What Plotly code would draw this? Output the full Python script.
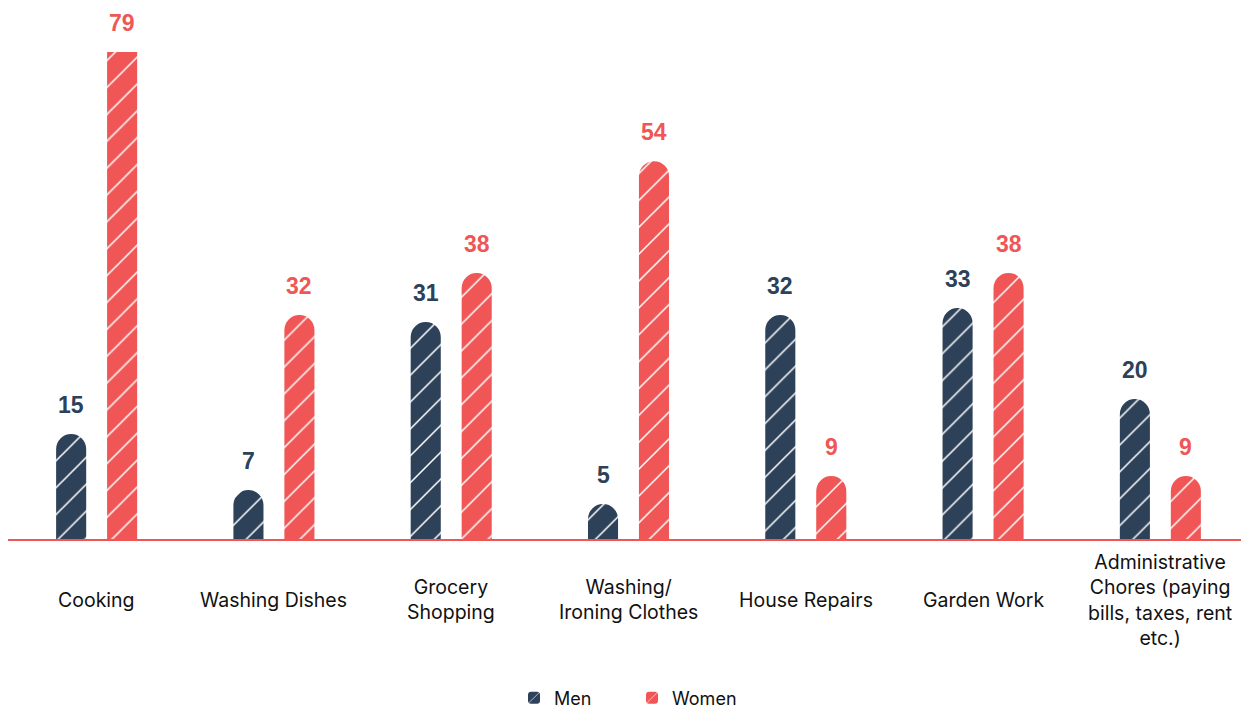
import plotly.graph_objects as go

categories = ["Cooking", "Washing Dishes", "Grocery Shopping", "Washing/Ironing Clothes",
              "House Repairs", "Garden Work", "Administrative Chores"]
tick_labels = ["Cooking", "Washing Dishes", "Grocery<br>Shopping", "Washing/<br>Ironing Clothes",
               "House Repairs", "Garden Work",
               "Administrative<br>Chores (paying<br>bills, taxes, rent<br>etc.)"]
men = [15, 7, 31, 5, 32, 33, 20]
women = [79, 32, 38, 54, 9, 38, 9]

NAVY = "#2d4159"
RED = "#ef5655"
YMAX = 69.6
FONT = "Inter, Liberation Sans, Arial, sans-serif"
NUMFONT = "Liberation Sans, Arial, sans-serif"

fig = go.Figure()
for name, vals, col in [("Men", men, NAVY), ("Women", women, RED)]:
    fig.add_trace(go.Bar(
        x=categories, y=vals, name=name,
        marker=dict(color=col, cornerradius="50%", line=dict(width=0),
                    pattern=dict(shape="/", fgcolor="white", fgopacity=1,
                                 fillmode="overlay", size=19, solidity=0.08)),
        hoverinfo="x+y",
    ))

annotations = []
for vals, col, shift in [(men, NAVY, -25.5), (women, RED, 25.5)]:
    for c, v in zip(categories, vals):
        annotations.append(dict(
            x=c, y=min(v, YMAX), xref="x", yref="y", text=str(v), showarrow=False,
            xshift=shift, yshift=29, yanchor="middle", xanchor="center",
            font=dict(family=NUMFONT, size=23, color=col, weight="bold"),
        ))
for c, lab in zip(categories, tick_labels):
    annotations.append(dict(
        x=c, y=0, xref="x", yref="paper", text=lab, showarrow=False,
        yshift=-60.5, yanchor="middle", xanchor="center", align="center",
        font=dict(family=FONT, size=19.5, color="#111111"),
    ))

fig.update_layout(
    width=1241, height=701,
    paper_bgcolor="white", plot_bgcolor="white",
    margin=dict(l=0, r=0, t=44, b=170),
    barmode="group", bargap=0.425, bargroupgap=0.41,
    xaxis=dict(showticklabels=False, showgrid=False, zeroline=False, showline=True,
               linecolor=RED, linewidth=2, ticks=""),
    yaxis=dict(range=[0, YMAX], visible=False, showgrid=False, zeroline=False),
    legend=dict(orientation="h", x=(632 - 8) / 1241, xanchor="center", xref="container",
                y=11 / 701, yanchor="middle", yref="container",
                font=dict(family=FONT, size=18, color="#111111"),
                traceorder="normal", itemwidth=30,
                entrywidth=73, entrywidthmode="pixels"),
    annotations=annotations,
    showlegend=True,
)
fig.write_html("out.html")
